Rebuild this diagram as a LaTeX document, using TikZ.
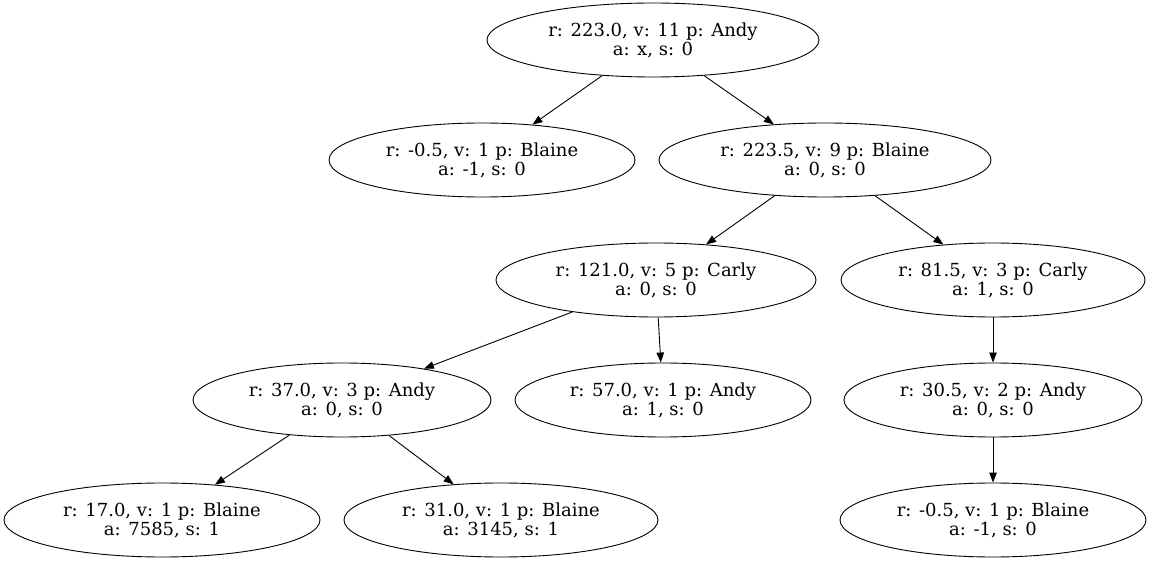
\documentclass[tikz,border=0pt]{standalone}
\usepackage{fontspec}
\setmainfont{DejaVu Serif}
\usetikzlibrary{shapes.geometric,arrows.meta}
\begin{document}
\begin{tikzpicture}[x=1pt,y=-1pt,
  st/.style={ellipse,draw,line width=0.9pt,inner sep=0pt,align=center,
    font=\fontsize{18}{19}\selectfont,minimum height=74pt},
  ed/.style={draw,line width=0.9pt,-{Triangle[length=10pt,width=7.5pt]}}]
\useasboundingbox (0,0) rectangle (1152,561);
\node[st,minimum width=332pt] (n1) at (653,40) {r: 223.0, v: 11 p: Andy\\a: x, s: 0};
\node[st,minimum width=306pt] (n2) at (482,160) {r: -0.5, v: 1 p: Blaine\\a: -1, s: 0};
\node[st,minimum width=332pt] (n3) at (825,160) {r: 223.5, v: 9 p: Blaine\\a: 0, s: 0};
\node[st,minimum width=320pt] (n4) at (656,280) {r: 121.0, v: 5 p: Carly\\a: 0, s: 0};
\node[st,minimum width=304pt] (n5) at (993,280) {r: 81.5, v: 3 p: Carly\\a: 1, s: 0};
\node[st,minimum width=298pt] (n6) at (342,400) {r: 37.0, v: 3 p: Andy\\a: 0, s: 0};
\node[st,minimum width=296pt] (n7) at (663,400) {r: 57.0, v: 1 p: Andy\\a: 1, s: 0};
\node[st,minimum width=298pt] (n8) at (993,400) {r: 30.5, v: 2 p: Andy\\a: 0, s: 0};
\node[st,minimum width=316pt] (n9) at (162,520) {r: 17.0, v: 1 p: Blaine\\a: 7585, s: 1};
\node[st,minimum width=314pt] (n10) at (501,520) {r: 31.0, v: 1 p: Blaine\\a: 3145, s: 1};
\node[st,minimum width=306pt] (n11) at (993,520) {r: -0.5, v: 1 p: Blaine\\a: -1, s: 0};
\draw[ed] (n1) -- (n2);
\draw[ed] (n1) -- (n3);
\draw[ed] (n3) -- (n4);
\draw[ed] (n3) -- (n5);
\draw[ed] (n4) -- (n6);
\draw[ed] (n4) -- (n7);
\draw[ed] (n5) -- (n8);
\draw[ed] (n6) -- (n9);
\draw[ed] (n6) -- (n10);
\draw[ed] (n8) -- (n11);
\end{tikzpicture}
\end{document}
